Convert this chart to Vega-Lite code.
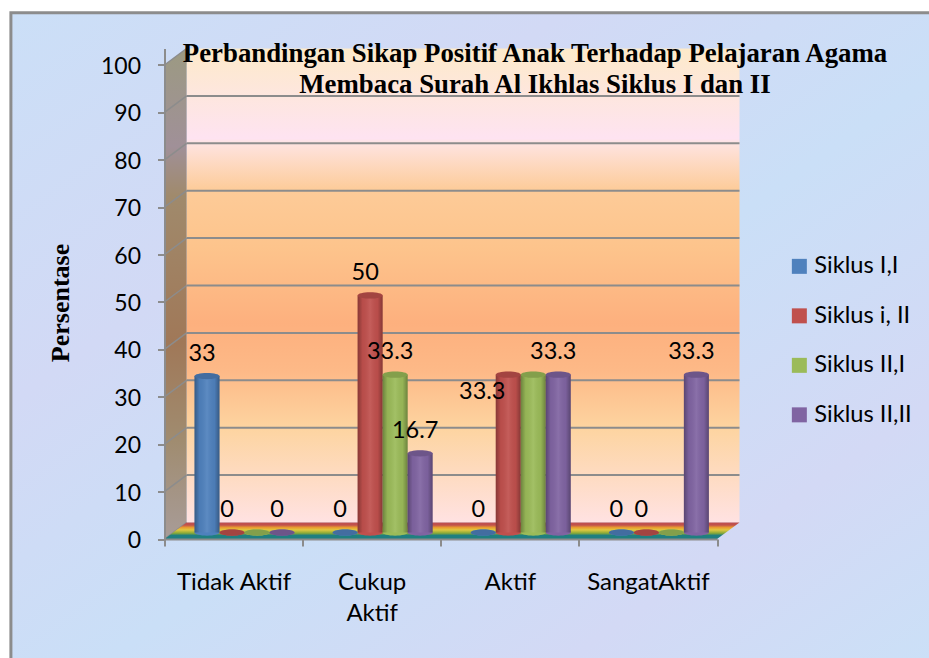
{"$schema":"https://vega.github.io/schema/vega-lite/v6.json","width":575,"height":490.5,"autosize":{"type":"none"},"padding":{"left":164.5,"top":48.5,"right":189.5,"bottom":119},"background":"#ffffff",
"title":{"text":["Perbandingan Sikap Positif Anak Terhadap Pelajaran Agama","Membaca Surah Al Ikhlas Siklus  I dan II"],"font":"Liberation Serif","fontSize":26.8,"fontWeight":"bold","color":"#000000","anchor":"middle","lineHeight":31,"dx":83,"dy":87,"offset":0,"frame":"group"},
"config":{"view":{"stroke":null},"font":"Lato"},
"datasets":{
"bars":[
{"kategori":"Tidak Aktif","siklus":"Siklus I,I","nilai":33,"label":"33"},
{"kategori":"Tidak Aktif","siklus":"Siklus i, II","nilai":0,"label":"0"},
{"kategori":"Tidak Aktif","siklus":"Siklus II,I","nilai":0,"label":null},
{"kategori":"Tidak Aktif","siklus":"Siklus II,II","nilai":0,"label":"0"},
{"kategori":"Cukup Aktif","siklus":"Siklus I,I","nilai":0,"label":"0"},
{"kategori":"Cukup Aktif","siklus":"Siklus i, II","nilai":50,"label":"50"},
{"kategori":"Cukup Aktif","siklus":"Siklus II,I","nilai":33.3,"label":"33.3"},
{"kategori":"Cukup Aktif","siklus":"Siklus II,II","nilai":16.7,"label":"16.7"},
{"kategori":"Aktif","siklus":"Siklus I,I","nilai":0,"label":"0"},
{"kategori":"Aktif","siklus":"Siklus i, II","nilai":33.3,"label":null,"labelKiri":"33.3"},
{"kategori":"Aktif","siklus":"Siklus II,I","nilai":33.3,"label":null},
{"kategori":"Aktif","siklus":"Siklus II,II","nilai":33.3,"label":"33.3"},
{"kategori":"SangatAktif","siklus":"Siklus I,I","nilai":0,"label":"0"},
{"kategori":"SangatAktif","siklus":"Siklus i, II","nilai":0,"label":"0"},
{"kategori":"SangatAktif","siklus":"Siklus II,I","nilai":0,"label":null},
{"kategori":"SangatAktif","siklus":"Siklus II,II","nilai":33.3,"label":"33.3"}],
"frame":[{"x0":-0.278,"x1":1.39,"y0":-26,"y1":111}],
"wall":[{"x0":0.04,"x1":1.0407,"y0":3.48,"y1":103.48}],
"side":[{"d":0,"lo":0,"hi":100},{"d":0.04,"lo":3.48,"hi":103.48}],
"floor":[{"d":0,"lo":0,"hi":0},{"d":0.04,"lo":0,"hi":3.48},{"d":1,"lo":0,"hi":3.48},{"d":1.0407,"lo":3.48,"hi":3.48}],
"grid":[{"v":0,"b":3.48},{"v":10,"b":13.48},{"v":20,"b":23.48},{"v":30,"b":33.48},{"v":40,"b":43.48},{"v":50,"b":53.48},{"v":60,"b":63.48},{"v":70,"b":73.48},{"v":80,"b":83.48},{"v":90,"b":93.48},{"v":100,"b":103.48}]
},
"layer":[
{"layer":[
{"data":{"name":"frame"},"mark":{"type":"rect","stroke":"#8c8c8c","strokeWidth":3,"color":{"x1":0,"y1":0,"x2":1,"y2":1,"gradient":"linear","stops":[{"offset":0,"color":"#cbdff7"},{"offset":0.3,"color":"#d2d9f5"},{"offset":0.55,"color":"#cadff7"},{"offset":0.8,"color":"#d3d9f5"},{"offset":1,"color":"#cbe0f7"}]}},
"encoding":{"x":{"field":"x0","type":"quantitative","scale":{"domain":[0,1.0407],"nice":false,"zero":false},"axis":null},"x2":{"field":"x1"},"y":{"field":"y0","type":"quantitative","scale":{"domain":[0,103.48],"nice":false},"axis":null},"y2":{"field":"y1"},"stroke":{"value":"#8c8c8c"}}},
{"data":{"name":"wall"},"mark":{"type":"rect","color":{"x1":0,"y1":0,"x2":0,"y2":1,"gradient":"linear","stops":[{"offset":0,"color":"#fdeaca"},{"offset":0.19,"color":"#fee3f1"},{"offset":0.2,"color":"#fee3e0"},{"offset":0.3,"color":"#fdcb98"},{"offset":0.42,"color":"#fdc48c"},{"offset":0.58,"color":"#fdb07e"},{"offset":0.68,"color":"#fdb987"},{"offset":0.8,"color":"#fdd4a0"},{"offset":1,"color":"#ffe2e2"}]}},
"encoding":{"x":{"field":"x0","type":"quantitative","axis":null},"x2":{"field":"x1"},"y":{"field":"y0","type":"quantitative","axis":null},"y2":{"field":"y1"}}},
{"data":{"name":"side"},"mark":{"type":"area","color":{"x1":0,"y1":0,"x2":0,"y2":1,"gradient":"linear","stops":[{"offset":0,"color":"#9c9a82"},{"offset":0.2,"color":"#a09098"},{"offset":0.3,"color":"#a08a6c"},{"offset":0.6,"color":"#a07858"},{"offset":0.8,"color":"#a08c70"},{"offset":1,"color":"#a89c98"}]}},
"encoding":{"x":{"field":"d","type":"quantitative","axis":null},"y":{"field":"lo","type":"quantitative","axis":null},"y2":{"field":"hi"}}},
{"data":{"name":"grid"},"transform":[{"filter":"datum.v>0 && datum.v<100"}],"mark":{"type":"rule","color":"#8c8c8c","strokeWidth":2},
"encoding":{"x":{"datum":0.04,"type":"quantitative","axis":null},"x2":{"datum":1.0407},"y":{"field":"b","type":"quantitative","axis":null}}},
{"data":{"name":"grid"},"mark":{"type":"rule","color":"#8c8c8c","strokeWidth":1.5},
"encoding":{"x":{"datum":0,"type":"quantitative","axis":null},"x2":{"datum":0.04},"y":{"field":"v","type":"quantitative","axis":null},"y2":{"field":"b"}}},
{"data":{"name":"floor"},"mark":{"type":"area","color":{"x1":0,"y1":0,"x2":0,"y2":1,"gradient":"linear","stops":[{"offset":0,"color":"#c0504d"},{"offset":0.15,"color":"#c0504d"},{"offset":0.3,"color":"#e89a30"},{"offset":0.45,"color":"#e0c840"},{"offset":0.65,"color":"#88a838"},{"offset":0.78,"color":"#1f7f80"},{"offset":1,"color":"#1f7f80"}]}},
"encoding":{"x":{"field":"d","type":"quantitative","axis":null},"y":{"field":"lo","type":"quantitative","axis":null},"y2":{"field":"hi"}}}
]},
{"data":{"name":"bars"},
"encoding":{
"x":{"field":"kategori","type":"nominal","sort":["Tidak Aktif","Cukup Aktif","Aktif","SangatAktif"],"scale":{"range":[0,552.5],"paddingInner":0,"paddingOuter":0},"axis":{"title":null,"zindex":1,"labelAngle":0,"labelFont":"Lato","labelFontSize":24,"labelColor":"#000000","labelPadding":24,"labelBaseline":"top","labelLineHeight":31,"labelExpr":"datum.value=='Cukup Aktif'?['Cukup','Aktif']:datum.value","domainColor":"#8c8c8c","domainWidth":2,"tickColor":"#8c8c8c","tickWidth":2,"tickSize":7,"tickBand":"extent","labelLimit":0}},
"xOffset":{"field":"siklus","type":"nominal","sort":["Siklus I,I","Siklus i, II","Siklus II,I","Siklus II,II"],"scale":{"range":[30,130],"paddingInner":0,"paddingOuter":0}},
"y":{"field":"nilai","type":"quantitative","stack":null,"scale":{"domain":[0,103.48],"nice":false},"axis":{"title":"Persentase","values":[0,10,20,30,40,50,60,70,80,90,100],"zindex":1,"grid":false,"labelFont":"Lato","labelFontSize":23,"labelColor":"#000000","labelPadding":17,"labelOffset":1.5,"domainColor":"#8c8c8c","domainWidth":2,"tickColor":"#8c8c8c","tickWidth":2,"tickSize":7,"titleFont":"Liberation Serif","titleFontSize":26,"titleFontWeight":"bold","titleColor":"#000000","titleX":-91,"titleY":254,"titleAngle":-90,"titleAnchor":"middle"}},
"color":{"field":"siklus","type":"nominal","sort":["Siklus I,I","Siklus i, II","Siklus II,I","Siklus II,II"],"scale":{"domain":["Siklus I,I","Siklus i, II","Siklus II,I","Siklus II,II"],"range":["#4f81bd","#c0504d","#9bbb59","#8064a2"]},"legend":{"title":null,"orient":"none","legendX":623,"legendY":206,"symbolType":"square","symbolSize":225,"symbolStrokeWidth":0,"labelFont":"Lato","labelFontSize":23.7,"labelColor":"#000000","rowPadding":24.5,"labelOffset":3}}
},
"layer":[
{"mark":{"type":"point","filled":true,"opacity":1,"shape":"M-1,0C-1,-0.14 -0.55,-0.25 0,-0.25C0.55,-0.25 1,-0.14 1,0C1,0.14 0.55,0.25 0,0.25C-0.55,0.25 -1,0.14 -1,0Z","size":625,"yOffset":-6.5},
"encoding":{"y":{"datum":0,"type":"quantitative"}}},
{"mark":{"type":"bar","yOffset":-6.5,"y2Offset":-6.5},
"encoding":{"y2":{"datum":0}}},
{"mark":{"type":"bar","yOffset":-6.5,"y2Offset":-6.5},
"encoding":{"y2":{"datum":0},"color":{"value":{"x1":0,"y1":0,"x2":1,"y2":0,"gradient":"linear","stops":[{"offset":0,"color":"rgba(0,0,0,0.3)"},{"offset":0.2,"color":"rgba(0,0,0,0.04)"},{"offset":0.5,"color":"rgba(255,255,255,0.08)"},{"offset":0.8,"color":"rgba(0,0,0,0.04)"},{"offset":1,"color":"rgba(0,0,0,0.3)"}]}}}},
{"mark":{"type":"point","filled":true,"opacity":1,"shape":"M-1,0C-1,-0.14 -0.55,-0.25 0,-0.25C0.55,-0.25 1,-0.14 1,0C1,0.14 0.55,0.25 0,0.25C-0.55,0.25 -1,0.14 -1,0Z","size":625,"yOffset":-6.5}},
{"mark":{"type":"point","filled":true,"opacity":0.15,"shape":"M-1,0C-1,-0.14 -0.55,-0.25 0,-0.25C0.55,-0.25 1,-0.14 1,0C1,0.14 0.55,0.25 0,0.25C-0.55,0.25 -1,0.14 -1,0Z","size":625,"yOffset":-6.5},
"encoding":{"color":{"value":"#000000"}}},
{"transform":[{"filter":"datum.label!=null"}],"mark":{"type":"text","font":"Lato","fontSize":23.5,"dx":-5,"dy":-29,"baseline":"middle"},
"encoding":{"text":{"field":"label","type":"nominal"},"color":{"value":"#000000"}}},
{"transform":[{"filter":"datum.labelKiri!=null"}],"mark":{"type":"text","font":"Lato","fontSize":23.5,"dx":-26,"dy":11,"baseline":"middle"},
"encoding":{"text":{"field":"labelKiri","type":"nominal"},"color":{"value":"#000000"}}}
]}
],
"resolve":{"scale":{"x":"independent","y":"independent"},"axis":{"x":"independent","y":"independent"}}}
